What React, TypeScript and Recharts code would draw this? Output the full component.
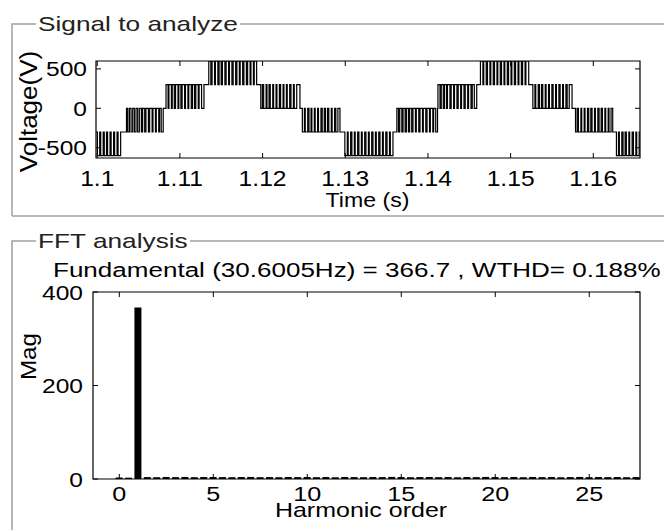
import { LineChart, Line, XAxis, YAxis, ReferenceArea, BarChart, Bar } from "recharts";

const FONT = "'Liberation Sans', Arial, Helvetica, sans-serif";

// signal window (s)
const timeStart = 1.09985;
const timeEnd = 1.16565;
const timeTicks = [1.1, 1.11, 1.12, 1.13, 1.14, 1.15, 1.16];
const voltTicks = [-500, 0, 500];
const voltMin = -630;
const voltMax = 600;

// staircase steps: start (ms after 1.1 s), level held, level switched to
const stepStartMs = [0, 3.44, 8.27, 13.39, 19.68, 24.76, 29.85, 36.14, 41.16, 46.3, 52.59, 57.75, 62.75];
const stepBase = [-300, -300, 0, 300, 300, 0, -300, -300, 0, 300, 300, 0, -300];
const stepAway = [-600, 0, 300, 600, 0, -300, -600, 0, 300, 600, 0, -300, -600];
// switching instants inside each step (ms from step start)
const stepToggles = [
  [0.02, 0.3, 0.42, 0.72, 0.85, 1.12, 1.25, 1.55, 1.68, 1.98, 2.1, 2.4, 2.52, 2.83],
  [0.1, 0.25, 0.45, 0.65, 0.85, 1.05, 1.25, 1.45, 1.65, 1.9, 2.05, 2.3, 2.45, 2.75, 2.9, 3.2, 3.3, 3.6, 3.7, 4.0, 4.1, 4.3, 4.54],
  [0.05, 0.3, 0.4, 0.7, 0.8, 1.05, 1.2, 1.5, 1.6, 1.85, 2.0, 2.3, 2.4, 2.7, 2.8, 3.1, 3.25, 3.5, 3.65, 3.95, 4.05, 4.35, 4.64],
  [0.1, 0.35, 0.5, 0.8, 0.9, 1.2, 1.35, 1.6, 1.75, 2.05, 2.2, 2.5, 2.6, 2.9, 3.05, 3.35, 3.5, 3.8, 3.9, 4.2, 4.35, 4.65, 4.8, 5.1, 5.2, 5.5, 5.6, 5.89],
  [0.1, 0.3, 0.45, 0.75, 0.85, 1.1, 1.25, 1.55, 1.65, 1.95, 2.05, 2.35, 2.5, 2.8, 2.9, 3.2, 3.3, 3.6, 3.75, 4.05, 4.15, 4.45, 4.84],
  [0.05, 0.3, 0.4, 0.7, 0.85, 1.1, 1.2, 1.5, 1.6, 1.9, 2.0, 2.3, 2.45, 2.7, 2.85, 3.1, 3.25, 3.55, 3.65, 3.95, 4.1, 4.35, 4.6],
  [0.1, 0.4, 0.5, 0.8, 0.95, 1.25, 1.35, 1.65, 1.8, 2.1, 2.2, 2.5, 2.65, 2.95, 3.05, 3.35, 3.5, 3.8, 3.9, 4.2, 4.35, 4.65, 4.75, 5.05, 5.2, 5.5, 5.6, 5.92],
  [0.1, 0.3, 0.45, 0.7, 0.85, 1.1, 1.25, 1.5, 1.65, 1.9, 2.05, 2.35, 2.45, 2.75, 2.9, 3.2, 3.3, 3.6, 3.75, 4.05, 4.15, 4.45, 4.55, 4.8, 5.02],
  [0.05, 0.3, 0.45, 0.7, 0.85, 1.1, 1.2, 1.5, 1.65, 1.95, 2.05, 2.35, 2.5, 2.8, 2.9, 3.2, 3.35, 3.65, 3.75, 4.05, 4.2, 4.45, 4.74],
  [0.05, 0.35, 0.45, 0.75, 0.9, 1.2, 1.3, 1.6, 1.75, 2.05, 2.15, 2.45, 2.6, 2.9, 3.0, 3.3, 3.45, 3.75, 3.85, 4.15, 4.3, 4.6, 4.7, 5.0, 5.15, 5.45, 5.55, 5.89],
  [0.1, 0.35, 0.45, 0.75, 0.9, 1.15, 1.3, 1.6, 1.7, 2.0, 2.1, 2.4, 2.55, 2.85, 2.95, 3.25, 3.4, 3.7, 3.8, 4.1, 4.25, 4.5, 4.84],
  [0.1, 0.3, 0.45, 0.75, 0.85, 1.15, 1.25, 1.55, 1.7, 1.95, 2.1, 2.4, 2.5, 2.8, 2.95, 3.2, 3.35, 3.65, 3.75, 4.05, 4.15, 4.4, 4.6],
  [0.05, 0.3, 0.4, 0.7, 0.85, 1.1, 1.25, 1.55, 1.65, 1.95, 2.1, 2.4, 2.5, 2.8],
];
const signalEndMs = 65.65;

// FFT bins (harmonic order, 2-cycle window -> half-order resolution)
const fftOrder = [
  0, 0.5, 1, 1.5, 2, 2.5, 3, 3.5, 4, 4.5, 5, 5.5, 6, 6.5, 7, 7.5, 8, 8.5, 9, 9.5,
  10, 10.5, 11, 11.5, 12, 12.5, 13, 13.5, 14, 14.5, 15, 15.5, 16, 16.5, 17, 17.5, 18, 18.5, 19, 19.5,
  20, 20.5, 21, 21.5, 22, 22.5, 23, 23.5, 24, 24.5, 25, 25.5, 26, 26.5, 27, 27.5,
];
const fftMag = [
  3.2, 2.8, 366.7, 4.1, 3.8, 4.3, 4.0, 4.4, 3.9, 4.2,
  4.3, 4.0, 3.8, 4.2, 4.4, 3.9, 4.1, 3.8, 4.3, 4.0,
  4.4, 3.9, 4.2, 3.7, 4.3, 4.1, 3.9, 4.2, 4.0, 4.5,
  4.2, 3.8, 4.1, 4.3, 3.9, 4.2, 3.7, 4.2, 4.0, 4.4,
  4.1, 3.9, 4.2, 3.8, 4.3, 4.0, 4.2, 3.7, 4.1, 4.4,
  3.9, 4.2, 4.0, 4.2, 3.8, 4.1,
];
const orderTicks = [0, 5, 10, 15, 20, 25];
const orderMin = -1.4;
const orderMax = 27.7;
const magTicks = [0, 200, 400];

const signalData: { t: number; v: number }[] = [];
stepStartMs.forEach((start, i) => {
  const base = stepBase[i];
  const away = stepAway[i];
  let cur = base;
  if (i === 0) signalData.push({ t: timeStart, v: base });
  stepToggles[i].forEach((rel) => {
    const t = 1.1 + (start + rel) / 1000;
    signalData.push({ t, v: cur });
    cur = cur === base ? away : base;
    signalData.push({ t, v: cur });
  });
  if (i === stepStartMs.length - 1) signalData.push({ t: 1.1 + signalEndMs / 1000, v: cur });
});

const fftData = fftOrder.map((h, i) => ({ h, mag: fftMag[i] }));

function SText({ x, y, size = 21, sx = 1.2, anchor = "middle", rotate = 0, fill = "#000", children }: any) {
  return (
    <text
      transform={`translate(${x} ${y}) rotate(${rotate}) scale(${sx} 1)`}
      textAnchor={anchor}
      fontSize={size}
      fontFamily={FONT}
      fill={fill}
    >
      {children}
    </text>
  );
}

// MATLAB-style ticks: pointing inward on both sides of the box
function makeXTick(top: number, bottom: number, gap: number, size: number, sx: number, fmt: (v: number) => string) {
  return (props: any) => {
    const { x, payload } = props;
    return (
      <g>
        <line x1={x} x2={x} y1={bottom} y2={bottom - 5} stroke="#000" />
        <line x1={x} x2={x} y1={top} y2={top + 5} stroke="#000" />
        <SText x={x} y={bottom + gap} size={size} sx={sx}>{fmt(payload.value)}</SText>
      </g>
    );
  };
}

function makeYTick(left: number, right: number, gap: number) {
  return (props: any) => {
    const { y, payload } = props;
    return (
      <g>
        <line x1={left} x2={left + 5} y1={y} y2={y} stroke="#000" />
        <line x1={right} x2={right - 5} y1={y} y2={y} stroke="#000" />
        <SText x={left - gap} y={y + 7.5} anchor="end" sx={1.17}>{String(payload.value)}</SText>
      </g>
    );
  };
}

const SIG = { left: 96, right: 640, top: 61, bottom: 158, w: 664, h: 216 };
const FFT = { left: 93, right: 640, top: 62, bottom: 249, w: 664, h: 300, y0: 230 };

export default function App() {
  return (
    <div style={{ position: "absolute", left: 0, top: 0, width: 664, height: 530, background: "#fff", overflow: "hidden" }}>
      <div style={{ position: "absolute", left: 0, top: 0 }}>
        <LineChart
          width={SIG.w}
          height={SIG.h}
          data={signalData}
          margin={{ top: SIG.top, right: SIG.w - SIG.right, bottom: SIG.h - SIG.bottom - 1, left: SIG.left - 1 }}
        >
          <XAxis
            type="number"
            dataKey="t"
            domain={[timeStart, timeEnd]}
            ticks={timeTicks}
            allowDataOverflow
            interval={0}
            height={1}
            axisLine={false}
            tickLine={false}
            tick={makeXTick(SIG.top, SIG.bottom, 28, 22, 1.12, (v) => String(Number(v.toFixed(2))))}
          />
          <YAxis
            type="number"
            domain={[voltMin, voltMax]}
            ticks={voltTicks}
            allowDataOverflow
            interval={0}
            width={1}
            axisLine={false}
            tickLine={false}
            tick={makeYTick(SIG.left, SIG.right, 9)}
          />
          <ReferenceArea x1={timeStart} x2={timeEnd} y1={voltMin} y2={voltMax} fill="none" stroke="#000" strokeWidth={1.2} />
          <Line type="linear" dataKey="v" stroke="#000" strokeWidth={1.2} dot={false} isAnimationActive={false} />
        </LineChart>
      </div>
      <div style={{ position: "absolute", left: 0, top: FFT.y0 }}>
        <BarChart
          width={FFT.w}
          height={FFT.h}
          data={fftData}
          margin={{ top: FFT.top, right: FFT.w - FFT.right, bottom: FFT.h - FFT.bottom - 1, left: FFT.left - 1 }}
        >
          <XAxis
            type="number"
            dataKey="h"
            domain={[orderMin, orderMax]}
            ticks={orderTicks}
            allowDataOverflow
            interval={0}
            height={1}
            axisLine={false}
            tickLine={false}
            tick={makeXTick(FFT.top, FFT.bottom, 22, 21, 1.2, (v) => String(v))}
          />
          <YAxis
            type="number"
            domain={[0, 400]}
            ticks={magTicks}
            allowDataOverflow
            interval={0}
            width={1}
            axisLine={false}
            tickLine={false}
            tick={makeYTick(FFT.left, FFT.right, 10)}
          />
          <ReferenceArea x1={orderMin} x2={orderMax} y1={0} y2={400} fill="none" stroke="#000" strokeWidth={1.2} />
          <Bar dataKey="mag" fill="#000" barSize={7} isAnimationActive={false} />
        </BarChart>
      </div>
      <svg width={664} height={530} style={{ position: "absolute", left: 0, top: 0, pointerEvents: "none" }}>
        {/* panel frames */}
        <polyline points="12,216 12,24 36,24" fill="none" stroke="#a0a0a0" strokeWidth={1.5} />
        <line x1={240} x2={664} y1={24} y2={24} stroke="#a0a0a0" strokeWidth={1.5} />
        <line x1={12} x2={664} y1={216} y2={216} stroke="#a0a0a0" strokeWidth={1.5} />
        <polyline points="12,530 12,241 36,241" fill="none" stroke="#a0a0a0" strokeWidth={1.5} />
        <line x1={190} x2={664} y1={241} y2={241} stroke="#a0a0a0" strokeWidth={1.5} />
        <SText x={38} y={30.5} anchor="start" sx={1.25} fill="#222">Signal to analyze</SText>
        <SText x={38} y={248} anchor="start" sx={1.25} fill="#222">FFT analysis</SText>
        {/* axis labels */}
        <SText x={37} y={111.5} rotate={-90} size={24} sx={1.085}>Voltage(V)</SText>
        <SText x={367.5} y={207} sx={1.1}>Time (s)</SText>
        <SText x={53} y={277} anchor="start" sx={1.24}>Fundamental (30.6005Hz) = 366.7 , WTHD= 0.188%</SText>
        <SText x={36} y={356.5} rotate={-90} size={22} sx={1.1}>Mag</SText>
        <SText x={361} y={517} sx={1.19}>Harmonic order</SText>
      </svg>
    </div>
  );
}
